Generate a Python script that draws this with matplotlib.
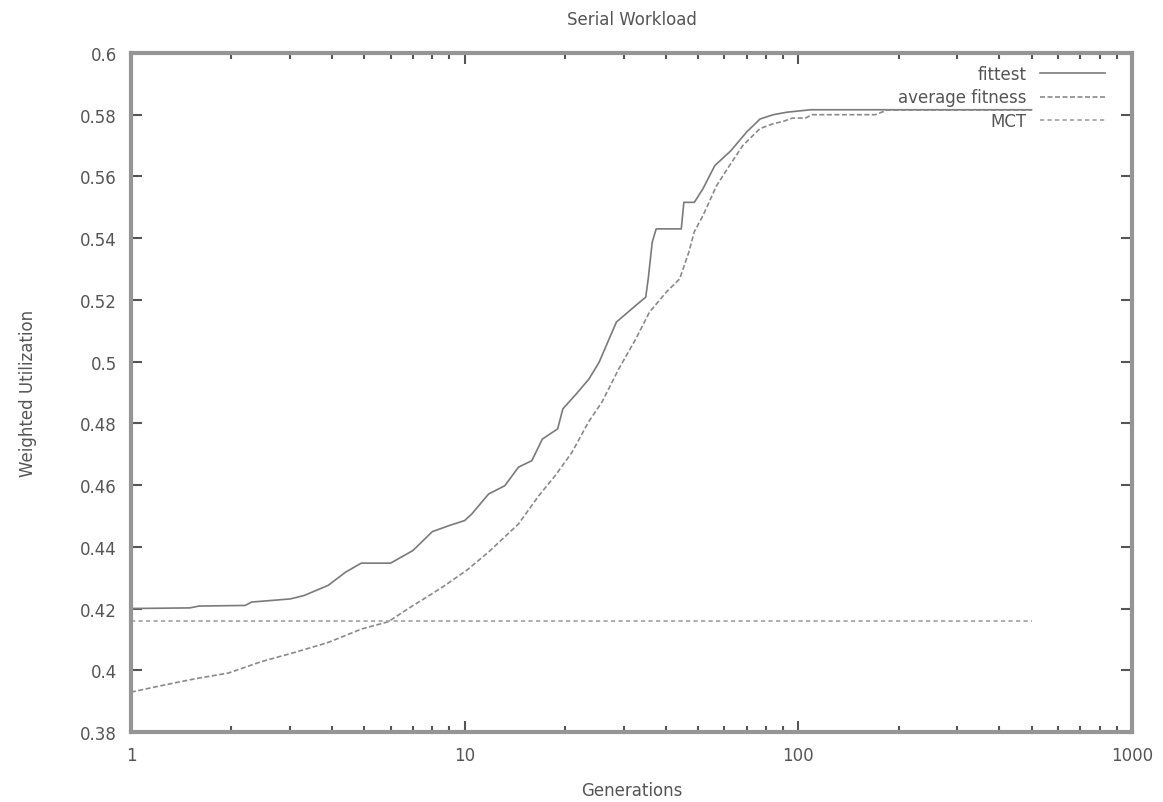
import matplotlib
matplotlib.use('Agg')
from matplotlib import pyplot as plt
from matplotlib.ticker import LogLocator, NullFormatter, FixedLocator

# values
fittest_gen = [1, 1.5, 1.6, 2.2, 2.3, 3, 3.3, 3.9, 4.4, 4.9, 6, 7, 8, 9, 10, 10.5, 11.8, 13.2,
               14.5, 15.9, 17.1, 19, 19.7, 21.6, 23.6, 25.3, 28.5, 31.7, 34.9, 35.5, 36.5, 37.5,
               44.6, 45.4, 48.8, 51.8, 56.2, 62.9, 69.9, 76.8, 84.2, 92.4, 109, 500]
fittest_val = [0.4200, 0.4202, 0.4208, 0.4210, 0.4221, 0.4231, 0.4242, 0.4275, 0.4318, 0.4347,
               0.4347, 0.4388, 0.4449, 0.4469, 0.4485, 0.4506, 0.4571, 0.4598, 0.4658, 0.4679,
               0.4749, 0.4782, 0.4847, 0.4895, 0.4944, 0.4998, 0.5128, 0.5171, 0.5209, 0.5268,
               0.5387, 0.5430, 0.5430, 0.5516, 0.5516, 0.5560, 0.5635, 0.5684, 0.5743, 0.5786,
               0.5800, 0.5808, 0.5816, 0.5816]

avg_gen = [1, 1.23, 1.55, 1.96, 2.46, 3.1, 3.9, 4.92, 5.9, 6.94, 7.78, 8.74, 10.2, 11.8, 14.5,
           16.7, 18.7, 21.0, 23.5, 25.8, 29.0, 32.6, 35.8, 40.2, 44.1, 47.0, 48.8, 51.8, 56.9,
           62.2, 68.3, 76.8, 84.2, 90, 96, 105, 110, 170, 185, 500]
avg_val = [0.3929, 0.3950, 0.3972, 0.3991, 0.4028, 0.4058, 0.4090, 0.4134, 0.4157, 0.4207,
           0.4240, 0.4275, 0.4326, 0.4383, 0.4474, 0.4566, 0.4631, 0.4707, 0.4804, 0.4869,
           0.4977, 0.5074, 0.5160, 0.5225, 0.5268, 0.5355, 0.5421, 0.5473, 0.5570, 0.5635,
           0.5701, 0.5755, 0.5771, 0.5778, 0.5789, 0.5789, 0.5800, 0.5800, 0.5815, 0.5815]

mct_gen = [1, 500]
mct_val = [0.416, 0.416]

y_ticks = [0.38, 0.4, 0.42, 0.44, 0.46, 0.48, 0.5, 0.52, 0.54, 0.56, 0.58, 0.6]
y_labels = ['0.38', '0.4', '0.42', '0.44', '0.46', '0.48', '0.5', '0.52', '0.54', '0.56', '0.58', '0.6']
x_ticks = [1, 10, 100, 1000]
x_labels = ['1', '10', '100', '1000']

TXT = '#555555'
FRAME = '#959595'

plt.rcParams['font.family'] = ['DejaVu Sans']
fig = plt.figure(figsize=(11.63, 8.03), dpi=100)
ax = fig.add_axes([0.1126, 0.0872, 0.8607, 0.8456])

ax.plot(fittest_gen, fittest_val, color='#7a7a7a', lw=1.2, label='fittest')
ax.plot(avg_gen, avg_val, color='#8a8a8a', lw=1.2, dashes=(3, 1.5), label='average fitness')
ax.plot(mct_gen, mct_val, color='#a0a0a0', lw=1.2, dashes=(2.5, 2), label='MCT')

ax.set_xscale('log')
ax.set_xlim(1, 1000)
ax.set_ylim(0.38, 0.6)
ax.xaxis.set_major_locator(FixedLocator(x_ticks))
ax.set_xticklabels(x_labels)
ax.xaxis.set_minor_locator(LogLocator(base=10, subs=range(2, 10)))
ax.xaxis.set_minor_formatter(NullFormatter())
ax.set_yticks(y_ticks)
ax.set_yticklabels(y_labels)

for s in ax.spines.values():
    s.set_color(FRAME)
    s.set_linewidth(3)

ax.tick_params(which='both', direction='in', top=True, right=True, color='#555555',
               labelcolor=TXT, labelsize=12)
ax.tick_params(which='major', length=8, width=1.5, pad=10)
ax.tick_params(which='minor', length=4, width=1.5)

ax.set_title('Serial Workload', color=TXT, fontsize=12, pad=21)
ax.set_xlabel('Generations', color=TXT, fontsize=12, labelpad=12)
ax.set_ylabel('Weighted Utilization', color=TXT, fontsize=12, labelpad=31)

leg = ax.legend(loc='upper right', bbox_to_anchor=(0.973, 0.983), frameon=False, markerfirst=False,
                handlelength=3.9, fontsize=12, labelspacing=0.35, handletextpad=0.8,
                borderpad=0, borderaxespad=0)
for t in leg.get_texts():
    t.set_color(TXT)

fig.savefig('out.png', dpi=100)
